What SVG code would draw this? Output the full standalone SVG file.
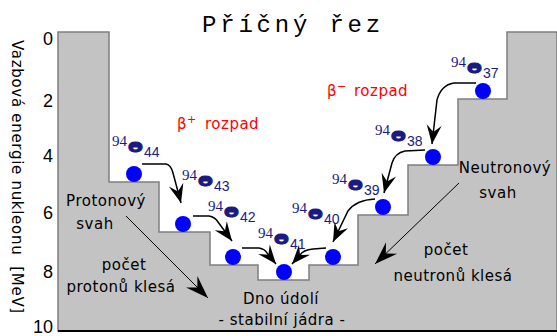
<svg xmlns="http://www.w3.org/2000/svg" width="557" height="336" viewBox="0 0 557 336">
<style>
 .ax{font-family:"Liberation Sans",Arial,sans-serif;font-size:18px;fill:#000;text-anchor:end}
 .lbl{font-family:"DejaVu Sans",Verdana,sans-serif;font-size:15px;letter-spacing:0.5px;fill:#000;text-anchor:middle}
 .red{font-family:"DejaVu Sans",Verdana,sans-serif;font-size:15px;letter-spacing:0.5px;fill:#ff0000}
 .nuc{fill:#0000ff}
 .mass{font-family:"Liberation Serif",serif;font-size:15px;fill:#1a1a80}
 .sym{font-family:"DejaVu Sans",sans-serif;font-weight:bold;font-size:14px;fill:#1a1a80;stroke:#1a1a80;stroke-width:1}
 .z{font-family:"Liberation Sans",sans-serif;font-size:14px;fill:#1a1a80}
 .decay{fill:none;stroke:#000;stroke-width:1.5;marker-end:url(#ah)}
 .slope{fill:none;stroke:#000;stroke-width:1;marker-end:url(#ahL)}
</style>
<defs>
 <marker id="ah" markerUnits="userSpaceOnUse" viewBox="-22 -10 24 20" markerWidth="24" markerHeight="20" refX="0" refY="0" orient="auto">
  <path d="M0,0 L-19,-7.5 L-12,0 L-19,7.5 Z" fill="#000"/>
 </marker>
 <marker id="ahL" markerUnits="userSpaceOnUse" viewBox="-26 -10 28 20" markerWidth="28" markerHeight="20" refX="0" refY="0" orient="auto">
  <path d="M0,0 L-23,-8 L-15,0 L-23,8 Z" fill="#000"/>
 </marker>
</defs>
<rect width="557" height="336" fill="#fff"/>

<g id="valley">
 <polygon points="58,32 109,32 109,182 159,182 159,232 210,232 210,265 258,265 258,280 309,280 309,265 358,265 358,215 408,215 408,165 458,165 458,99 507,99 507,32 557,32 557,331 58,331" fill="#c3c3c3" stroke="#7f7f7f" stroke-width="1.5"/>
 <line x1="58" y1="331" x2="557" y2="331" stroke="#000" stroke-width="2"/>
</g>

<g id="title">
 <text x="202" y="32" font-family="'Liberation Mono','Courier New',monospace" font-size="24" letter-spacing="3.8" fill="#000">Příčný řez</text>
</g>

<g id="axis">
 <text class="ax" x="53" y="45">0</text>
 <text class="ax" x="53" y="107">2</text>
 <text class="ax" x="53" y="162">4</text>
 <text class="ax" x="53" y="219">6</text>
 <text class="ax" x="53" y="278">8</text>
 <text class="ax" x="53" y="333">10</text>
 <text transform="translate(12,40) rotate(90)" font-family="'DejaVu Sans',Verdana,sans-serif" font-size="15" letter-spacing="0.7" fill="#000" xml:space="preserve">Vazbová energie nukleonu  [MeV]</text>
</g>

<g id="connectors">
 <path class="decay" d="M142,164 H166 Q171,165 173,173 L181,203"/>
 <path class="decay" d="M193,216 H209 Q215,217 218,222 L232,241"/>
 <path class="decay" d="M242,248 H259 Q265,249 267,253 L276,264"/>
 <path class="decay" d="M326,248 L313,249 Q303,250 300,255 L292,264"/>
 <path class="decay" d="M375,199 Q356,200 348,211 L333,242"/>
 <path class="decay" d="M425,150 L405,151 Q395,153 392,163 L384,193"/>
 <path class="decay" d="M476,83 L454,83 Q441,85 437,100 L432,144"/>
 <path class="slope" d="M126,216 L208,298"/>
 <path class="slope" d="M459,183 L375,264"/>
</g>

<g id="n44"><circle class="nuc" cx="134" cy="174" r="8"/><g transform="translate(112,146)"><text class="mass">94</text><text class="sym" transform="translate(16,6) scale(1.25,1)">Θ</text><text class="z" x="32" y="11">44</text></g></g>
<g id="n43"><circle class="nuc" cx="183" cy="224" r="8"/><g transform="translate(182,180)"><text class="mass">94</text><text class="sym" transform="translate(16,6) scale(1.25,1)">Θ</text><text class="z" x="32" y="11">43</text></g></g>
<g id="n42"><circle class="nuc" cx="233" cy="257" r="8"/><g transform="translate(208,211)"><text class="mass">94</text><text class="sym" transform="translate(16,6) scale(1.25,1)">Θ</text><text class="z" x="32" y="11">42</text></g></g>
<g id="n41"><circle class="nuc" cx="284" cy="272" r="8"/><g transform="translate(258,238)"><text class="mass">94</text><text class="sym" transform="translate(16,6) scale(1.25,1)">Θ</text><text class="z" x="32" y="11">41</text></g></g>
<g id="n40"><circle class="nuc" cx="333" cy="257" r="8"/><g transform="translate(292,213)"><text class="mass">94</text><text class="sym" transform="translate(16,6) scale(1.25,1)">Θ</text><text class="z" x="32" y="11">40</text></g></g>
<g id="n39"><circle class="nuc" cx="383" cy="207" r="8"/><g transform="translate(332,184)"><text class="mass">94</text><text class="sym" transform="translate(16,6) scale(1.25,1)">Θ</text><text class="z" x="32" y="11">39</text></g></g>
<g id="n38"><circle class="nuc" cx="433" cy="157" r="8"/><g transform="translate(375,135)"><text class="mass">94</text><text class="sym" transform="translate(16,6) scale(1.25,1)">Θ</text><text class="z" x="32" y="11">38</text></g></g>
<g id="n37"><circle class="nuc" cx="483" cy="91" r="8"/><g transform="translate(451,67)"><text class="mass">94</text><text class="sym" transform="translate(16,6) scale(1.25,1)">Θ</text><text class="z" x="32" y="11">37</text></g></g>

<g id="beta-plus">
 <text class="red" y="129"><tspan x="177">β</tspan><tspan x="187" y="123" font-size="11">+</tspan><tspan x="205" y="129">rozpad</tspan></text>
</g>
<g id="beta-minus">
 <text class="red" y="96"><tspan x="327">β</tspan><tspan x="337" y="90" font-size="11">−</tspan><tspan x="354" y="96">rozpad</tspan></text>
</g>

<g id="proton-slope">
 <text class="lbl" x="106" y="206">Protonový</text>
 <text class="lbl" x="95" y="229">svah</text>
 <text class="lbl" x="124" y="270">počet</text>
 <text class="lbl" x="121" y="292">protonů klesá</text>
</g>
<g id="neutron-slope">
 <text class="lbl" x="505" y="173">Neutronový</text>
 <text class="lbl" x="498" y="198">svah</text>
 <text class="lbl" x="446" y="255">počet</text>
 <text class="lbl" x="453" y="281">neutronů klesá</text>
</g>
<g id="bottom">
 <text class="lbl" x="281" y="304">Dno údolí</text>
 <text class="lbl" x="282" y="325">- stabilní jádra -</text>
</g>
</svg>
